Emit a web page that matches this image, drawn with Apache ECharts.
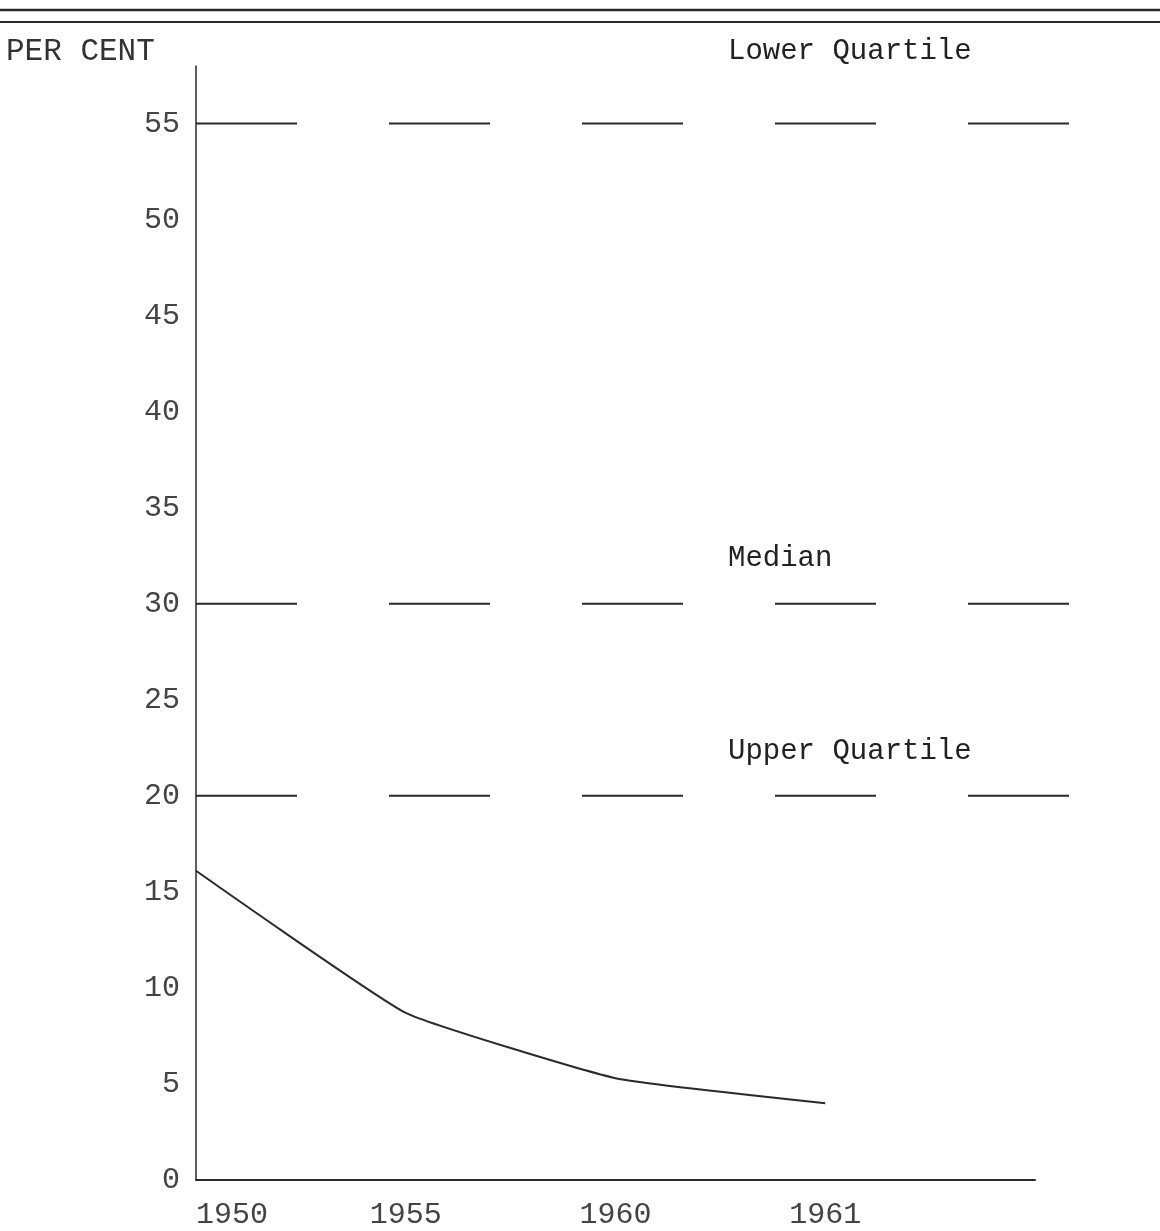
<!DOCTYPE html>
<html>
<head>
<meta charset="utf-8">
<title>Per cent, 1950–1961</title>
<script src="https://cdn.jsdelivr.net/npm/echarts@6/dist/echarts.min.js"></script>
<style>
  html, body { margin: 0; padding: 0; background: #fff; }
  #chart { width: 1160px; height: 1231px; }
</style>
</head>
<body>
<div id="chart"></div>
<script>
// Years along the bottom; the last slot is blank so the axis runs on past 1961.
const years = ['1950', '1955', '1960', '1961', ''];
// Per cent for each year.
const perCent = [16.1, 8.7, 5.3, 4.0];
// Reference levels drawn as long dashes across the plot.
const refNames = ['Lower Quartile', 'Median', 'Upper Quartile'];
const refValues = [55, 30, 20];
// Value axis range and step.
const yMin = 0, yMax = 58, yStep = 5;

const ink = '#2a2a2a';
const typeFont = '"Liberation Mono", "DejaVu Sans Mono", monospace';

const chart = echarts.init(document.getElementById('chart'), null, { renderer: 'canvas' });

const refSeries = refValues.map((v, i) => ({
  name: refNames[i],
  type: 'line',
  xAxisIndex: 1,
  yAxisIndex: 1,
  data: [[0, v], [1, v]],
  showSymbol: false,
  silent: true,
  lineStyle: { color: ink, width: 2, type: [101, 92] }
}));

chart.setOption({
  backgroundColor: '#fff',
  animation: false,
  grid: [
    { left: 196, right: 125, top: 66, bottom: 51 },
    { left: 196, right: 90, top: 66, bottom: 51 }
  ],
  xAxis: [
    {
      type: 'category',
      gridIndex: 0,
      data: years,
      boundaryGap: false,
      axisLine: { show: true, lineStyle: { color: ink, width: 2 } },
      axisTick: { show: false },
      splitLine: { show: false },
      axisLabel: {
        show: true,
        margin: 20,
        color: '#444',
        fontFamily: typeFont,
        fontSize: 30,
        alignMinLabel: 'left'
      }
    },
    { type: 'value', gridIndex: 1, min: 0, max: 1, show: false }
  ],
  yAxis: [
    {
      type: 'value',
      gridIndex: 0,
      min: yMin,
      max: yMax,
      interval: yStep,
      axisLine: { show: true, lineStyle: { color: ink, width: 1.5 } },
      axisTick: { show: false },
      splitLine: { show: false },
      axisLabel: {
        margin: 16,
        color: '#444',
        fontFamily: typeFont,
        fontSize: 30,
        formatter: v => (v % yStep === 0 ? String(v) : '')
      }
    },
    { type: 'value', gridIndex: 1, min: yMin, max: yMax, show: false }
  ],
  series: [
    {
      name: 'Per cent',
      type: 'line',
      xAxisIndex: 0,
      yAxisIndex: 0,
      data: perCent,
      showSymbol: false,
      smooth: 0.12,
      lineStyle: { color: ink, width: 2 }
    },
    ...refSeries
  ]
});

// Texts placed off the scales: rules at the head of the page, the axis title,
// and a caption above each reference level.
const captionLift = [72, 45, 45];
const graphics = [
  { type: 'line', shape: { x1: 0, y1: 10, x2: 1160, y2: 10 }, style: { stroke: ink, lineWidth: 2.5 } },
  { type: 'line', shape: { x1: 0, y1: 22, x2: 1160, y2: 22 }, style: { stroke: ink, lineWidth: 2 } },
  {
    type: 'text', left: 6, top: 36,
    style: { text: 'PER CENT', font: '31px ' + typeFont, fill: '#333' }
  }
];
refValues.forEach((v, i) => {
  const p = chart.convertToPixel({ gridIndex: 1 }, [0, v]);
  graphics.push({
    type: 'text',
    x: 728,
    y: p[1] - captionLift[i],
    style: {
      text: refNames[i],
      font: '29px ' + typeFont,
      fill: '#222',
      textVerticalAlign: 'middle'
    }
  });
});
chart.setOption({ graphic: graphics });
</script>
</body>
</html>
